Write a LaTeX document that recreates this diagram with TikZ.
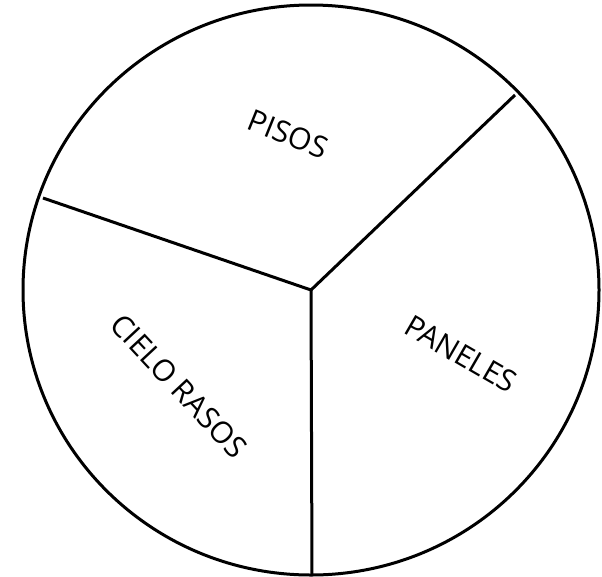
\documentclass[tikz,border=0pt]{standalone}
\usepackage{fontspec}
\setmainfont{Open Sans}
\begin{document}
\begin{tikzpicture}[x=1pt,y=-1pt,
  rim/.style={line width=3pt,black},
  label/.style={font=\fontsize{30}{36}\selectfont,inner sep=0pt}]
\useasboundingbox (0,0) rectangle (602,576);
\coordinate (c) at (311,290);
\draw[rim] (c) ellipse [x radius=288, y radius=285];
\coordinate (ur) at (515,95);
\coordinate (lf) at (43,198);
\coordinate (bt) at (312,576);
\draw[rim] (ur) -- (c) -- (lf);
\draw[rim] (c) -- (bt);
\node[label,rotate=-22] (pisos) at (288,134) {PISOS};
\node[label,rotate=-30] (paneles) at (461,354) {PANELES};
\node[label,rotate=-47] (cielo) at (179,386) {CIELO RASOS};
\end{tikzpicture}
\end{document}
